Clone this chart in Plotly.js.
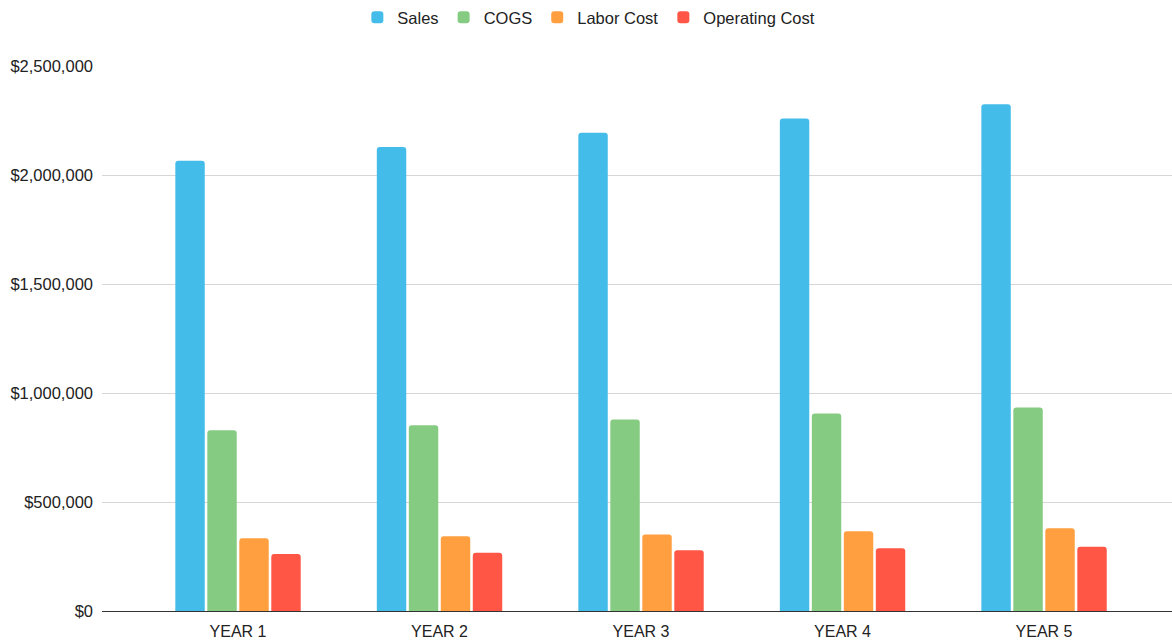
<!DOCTYPE html>
<html>
<head>
<meta charset="utf-8">
<script src="https://cdn.plot.ly/plotly-3.0.1.min.js"></script>
<style>html,body{margin:0;padding:0;background:#fff;}#chart{width:1172px;height:643px;}</style>
</head>
<body>
<div id="chart"></div>
<script>
const categories = ["YEAR 1", "YEAR 2", "YEAR 3", "YEAR 4", "YEAR 5"];
const sales = [2065000, 2129000, 2194000, 2259000, 2325000];
const cogs = [829000, 852000, 878000, 906000, 933000];
const labor = [334000, 343000, 351000, 366000, 380000];
const operating = [262000, 267000, 279000, 288000, 295000];
const seriesNames = ["Sales", "COGS", "Labor Cost", "Operating Cost"];
const seriesColors = ["#44BCEA", "#86CB82", "#FF9F40", "#FF5646"];
const seriesValues = [sales, cogs, labor, operating];
const yTicks = [0, 500000, 1000000, 1500000, 2000000, 2500000];
const yTickText = ["$0", "$500,000", "$1,000,000", "$1,500,000", "$2,000,000", "$2,500,000"];

const traces = seriesNames.map((name, i) => ({
  type: "bar",
  name: name,
  x: categories,
  y: seriesValues[i],
  marker: {color: seriesColors[i], line: {width: 0}},
  hoverinfo: "x+y+name"
}));

const layout = {
  width: 1172,
  height: 643,
  paper_bgcolor: "#ffffff",
  plot_bgcolor: "#ffffff",
  font: {family: "Liberation Sans, Arial, sans-serif", size: 16, color: "#222222"},
  margin: {l: 102, r: 0, t: 65, b: 32, pad: 0},
  barmode: "group",
  bargap: 0.365,
  bargroupgap: 0.08,
  barcornerradius: 3,
  showlegend: true,
  legend: {
    orientation: "h",
    x: 0.455,
    xanchor: "center",
    y: 1.088,
    yanchor: "middle",
    font: {size: 16.5, color: "#222222"},
    itemwidth: 30,
    traceorder: "normal"
  },
  xaxis: {
    type: "category",
    range: [-0.675, 4.635],
    showgrid: false,
    showline: false,
    zeroline: false,
    ticks: "",
    ticklabelstandoff: 9,
    tickfont: {size: 16, color: "#222222"},
    fixedrange: true
  },
  yaxis: {
    range: [0, 2500000],
    tickvals: yTicks,
    ticktext: yTickText,
    showgrid: true,
    gridcolor: "#d6d6d6",
    gridwidth: 1,
    zeroline: true,
    zerolinecolor: "#333333",
    zerolinewidth: 1,
    showline: false,
    ticks: "",
    ticklabelstandoff: 8,
    tickfont: {size: 16.5, color: "#222222"},
    fixedrange: true
  }
};

Plotly.newPlot("chart", traces, layout, {displayModeBar: false, staticPlot: true});
</script>
</body>
</html>
